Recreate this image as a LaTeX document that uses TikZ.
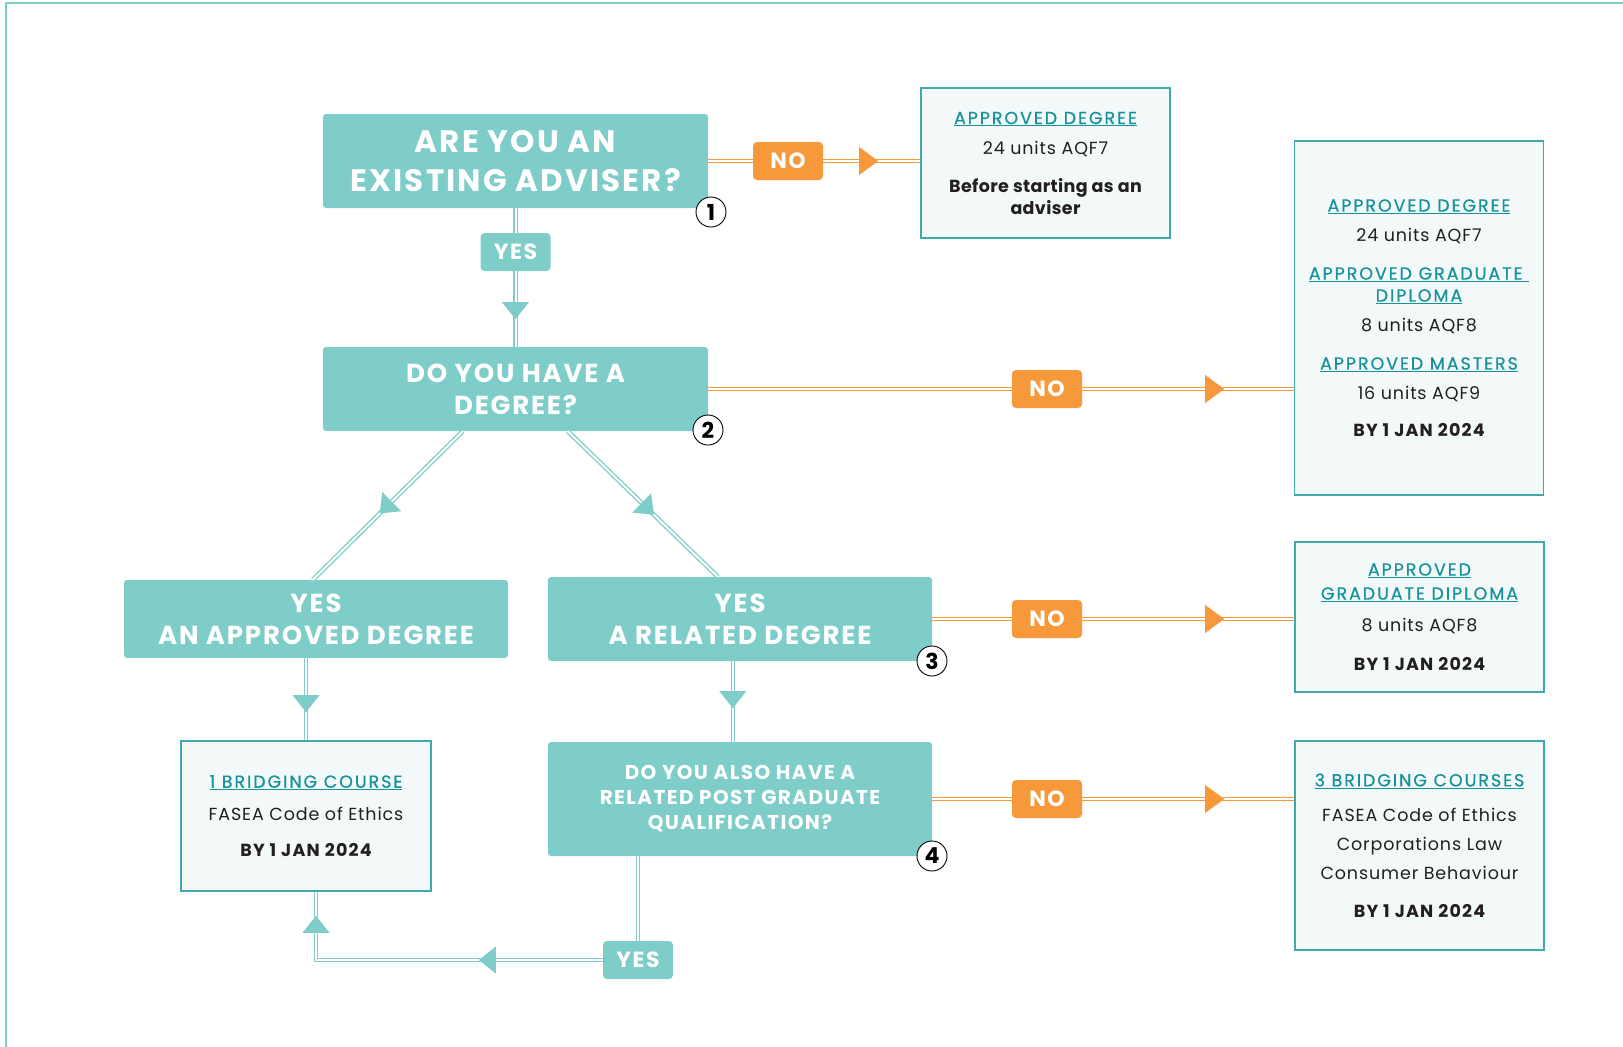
\documentclass[tikz,border=0pt]{standalone}
\usepackage{fontspec}
\setmainfont{Poppins}
\newfontfamily\capsfont{Poppins}[LetterSpace=7]
\newfontfamily\infohead{Poppins}[LetterSpace=11, FakeBold=0.6]
\newfontfamily\bodyfont{Poppins}[LetterSpace=5]
\newfontfamily\bodybold{Poppins}[LetterSpace=2]
\usetikzlibrary{decorations.markings,calc}
\definecolor{tealbox}{HTML}{7ECDC8}
\definecolor{tealhead}{HTML}{17929A}
\definecolor{tealedge}{HTML}{3FA9AD}
\definecolor{lightfill}{HTML}{F3F9F9}
\definecolor{orng}{HTML}{F7993A}
\definecolor{txt}{HTML}{231F20}
\newcommand\myhead[1]{{\infohead\textcolor{tealhead}{\underline{#1}}}}
\newcommand\mydate[1]{{\capsfont\bfseries #1}}
\begin{document}
\begin{tikzpicture}[x=1pt,y=-1pt,
  qbox/.style={fill=tealbox, rounded corners=3pt, text=white, align=center, inner sep=0pt},
  infobox/.style={fill=lightfill, draw=tealedge, line width=1.2pt, align=center, text=txt, inner sep=0pt, font=\bodyfont\fontsize{17.5}{22}\selectfont},
  yeslab/.style={fill=tealbox, rounded corners=4pt, text=white, minimum width=70, minimum height=38, inner sep=0pt, font=\capsfont\bfseries\fontsize{22}{22}\selectfont},
  nolab/.style={fill=orng, rounded corners=4pt, text=white, minimum width=70, minimum height=38, inner sep=0pt, font=\capsfont\bfseries\fontsize{22}{22}\selectfont},
  numc/.style={circle, draw=black, fill=white, line width=0.9pt, minimum size=30, inner sep=0pt, font=\bfseries\fontsize{22}{22}\selectfont},
  tealconn/.style={draw=tealbox, line width=1.3pt, double=white, double distance=2pt},
  orngconn/.style={draw=orng, line width=1.3pt, double=white, double distance=2pt},
  ttri/.style={postaction={decorate,decoration={markings,mark=at position #1 with {\fill[tealbox] (0,0) -- (-17,13.5) -- (-17,-13.5) -- cycle;}}}},
  otri/.style={postaction={decorate,decoration={markings,mark=at position #1 with {\fill[orng] (0,0) -- (-19,14) -- (-19,-14) -- cycle;}}}}
]
\useasboundingbox (0,0) rectangle (1623,1047);
\draw[tealbox, line width=1.5pt] (6,1047) -- (6,3) -- (1623,3);

% question boxes
\node[qbox, minimum width=385, minimum height=94, font=\capsfont\bfseries\fontsize{31}{39}\selectfont] (b1) at (515.5,161) {ARE YOU AN\\EXISTING ADVISER?};
\node[qbox, minimum width=385, minimum height=84, font=\capsfont\bfseries\fontsize{26}{32}\selectfont] (b2) at (515.5,389) {DO YOU HAVE A\\DEGREE?};
\node[qbox, minimum width=384, minimum height=78, font=\capsfont\bfseries\fontsize{26}{32}\selectfont] (b3a) at (316,619) {YES\\AN APPROVED DEGREE};
\node[qbox, minimum width=384, minimum height=84, font=\capsfont\bfseries\fontsize{26}{32}\selectfont] (b3b) at (740,619) {YES\\A RELATED DEGREE};
\node[qbox, minimum width=384, minimum height=114, font=\capsfont\bfseries\fontsize{20}{25}\selectfont] (b4) at (740,799) {DO YOU ALSO HAVE A\\RELATED POST GRADUATE\\QUALIFICATION?};

% info boxes
\node[infobox, minimum width=249, minimum height=150] (r1) at (1045.5,163)
  {\myhead{APPROVED DEGREE}\\[8pt]24 units AQF7\\[16pt]{\bodybold\bfseries Before starting as an}\\{\bodybold\bfseries adviser}};
\node[infobox, minimum width=249, minimum height=354] (r2) at (1419,318)
  {\myhead{APPROVED DEGREE}\\[8pt]24 units AQF7\\[16pt]\myhead{APPROVED GRADUATE }\\\myhead{DIPLOMA}\\[8pt]8 units AQF8\\[16pt]\myhead{APPROVED MASTERS}\\[8pt]16 units AQF9\\[15pt]\mydate{BY 1 JAN 2024}};
\node[infobox, minimum width=249, minimum height=150] (r3) at (1419.5,617)
  {\myhead{APPROVED}\\[2pt]\myhead{GRADUATE DIPLOMA}\\[10pt]8 units AQF8\\[17pt]\mydate{BY 1 JAN 2024}};
\node[infobox, minimum width=249, minimum height=209] (r4) at (1419.5,845.5)
  {\myhead{3 BRIDGING COURSES}\\[13pt]FASEA Code of Ethics\\[7pt]Corporations Law\\[7pt]Consumer Behaviour\\[16pt]\mydate{BY 1 JAN 2024}};
\node[infobox, minimum width=250, minimum height=150] (bb) at (306,816)
  {\myhead{1 BRIDGING COURSE}\\[11pt]FASEA Code of Ethics\\[14pt]\mydate{BY 1 JAN 2024}};

% label positions
\coordinate (y2) at (638,960);
\coordinate (cnr) at (316,960);

% teal connectors
\draw[tealconn, ttri=111pt] (b1.south) -- (b2.north);
\draw[tealconn, ttri=117pt] ($(b2.south west)+(140,0)$) -- ($(b3a.north west)+(189,0)$);
\draw[tealconn, ttri=120pt] ($(b2.south west)+(245,0)$) -- ($(b3b.north west)+(170,0)$);
\draw[tealconn, ttri=54pt] (bb.north |- b3a.south) -- (bb.north);
\draw[tealconn, ttri=47pt] ($(b3b.south west)+(185,0)$) -- ($(b4.north west)+(185,0)$);
\draw[tealconn, ttri=263pt, ttri=470pt] (b4.south -| y2) -- (y2) -- (cnr) -- (cnr |- bb.south);

% orange connectors
\draw[orngconn, otri=170pt] (b1.east) -- (b1.east -| r1.west);
\draw[orngconn, otri=516pt] (b2.east) -- (b2.east -| r2.west);
\draw[orngconn, otri=292pt] (b3b.east) -- (b3b.east -| r3.west);
\draw[orngconn, otri=292pt] (b4.east) -- (b4.east -| r4.west);

% labels
\node[yeslab] (yes1) at (515.5,252) {YES};
\node[yeslab] (yes2) at (y2) {YES};
\node[nolab] (no1) at (788,161) {NO};
\node[nolab] (no2) at (1047,389) {NO};
\node[nolab] (no3) at (1047,619) {NO};
\node[nolab] (no4) at (1047,799) {NO};

% numbers
\node[numc] (n1) at (711,212) {1};
\node[numc] (n2) at (708,430) {2};
\node[numc] (n3) at (932,661) {3};
\node[numc] (n4) at (932,856) {4};
\end{tikzpicture}
\end{document}
